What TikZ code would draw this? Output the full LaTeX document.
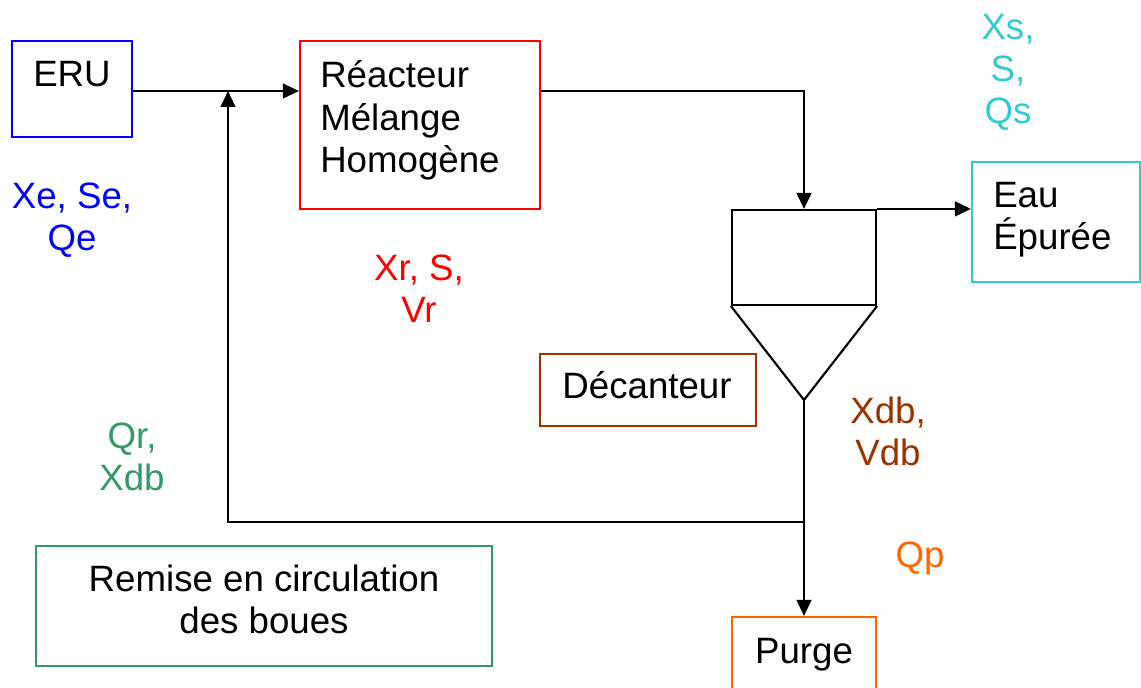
\documentclass[tikz,border=0pt]{standalone}
\usepackage{fontspec}
\setmainfont{Liberation Sans}
\usetikzlibrary{arrows.meta}
\definecolor{cBlue}{RGB}{0,0,255}
\definecolor{cRed}{RGB}{255,0,0}
\definecolor{cCyan}{RGB}{51,204,204}
\definecolor{cGreen}{RGB}{51,153,102}
\definecolor{cBrown}{RGB}{153,51,0}
\definecolor{cOrange}{RGB}{255,102,0}
\begin{document}
\begin{tikzpicture}[x=0.75pt,y=-0.75pt,
  font=\fontsize{27.5}{31.5}\selectfont,
  box/.style={draw=#1,line width=1.6pt,inner sep=0pt,rectangle},
  txt/.style={inner sep=0pt,anchor=base,align=center},
  txtl/.style={inner sep=0pt,anchor=base west,align=left},
  arr/.style={line width=1.6pt,-{Triangle[length=12pt,width=11pt]}},
  ln/.style={line width=1.6pt}]
\useasboundingbox (0,0) rectangle (1141,688);
% boxes
\node[box=cBlue,minimum width=90pt,minimum height=72pt] (eru) at (72,89) {};
\node[box=cRed,minimum width=180pt,minimum height=126pt] (reac) at (420,125) {};
\node[box=black,minimum width=108pt,minimum height=71.25pt] (dec) at (804,257.5) {};
\coordinate (apex) at (804,400);
\node[box=cCyan,minimum width=126pt,minimum height=90pt] (eau) at (1056,222) {};
\node[box=cBrown,minimum width=162pt,minimum height=54pt] (decl) at (648,390) {};
\node[box=cGreen,minimum width=342pt,minimum height=90pt] (rem) at (264,606) {};
\node[box=cOrange,minimum width=108pt,minimum height=63pt] (purge) at (804,659) {};
\coordinate (jn) at (804,522);
\coordinate (mix) at (228,91);
\coordinate (rc) at (228,522);
% cone
\draw[ln,line join=miter] (dec.south west) -- (apex) -- (dec.south east);
% texts in boxes (base anchor = baseline of last line)
\node[txt] (teru) at (72,87) {ERU};
\node[txtl] (treac) at (320,172) {Réacteur\\Mélange\\Homogène};
\node[txtl] (teau) at (993,249) {Eau\\Épurée};
\node[txt] (tdecl) at (647,398) {Décanteur};
\node[txt] (trem) at (264,633) {Remise en circulation\\des boues};
\node[txt] (tpurge) at (804,663) {Purge};
% coloured labels
\node[txt,text=cCyan] (lxs) at (1008,124) {Xs,\\S,\\Qs};
\node[txt,text=cBlue] (lxe) at (72,250) {Xe, Se,\\Qe};
\node[txt,text=cRed] (lxr) at (419,322) {Xr, S,\\Vr};
\node[txt,text=cGreen] (lqr) at (132,490) {Qr,\\Xdb};
\node[txt,text=cBrown] (lxdb) at (888,465) {Xdb,\\Vdb};
\node[txt,text=cOrange] (lqp) at (920,567) {Qp};
% connectors
\draw[arr] (eru.east |- mix) -- (reac.west |- mix);
\draw[arr] (reac.east |- mix) -| (dec.north);
\draw[arr] (dec.north east) -- (dec.north east -| eau.west);
\draw[arr] (apex) -- (purge.north);
\draw[arr] (jn) -- (rc) -- (mix);
\end{tikzpicture}
\end{document}
